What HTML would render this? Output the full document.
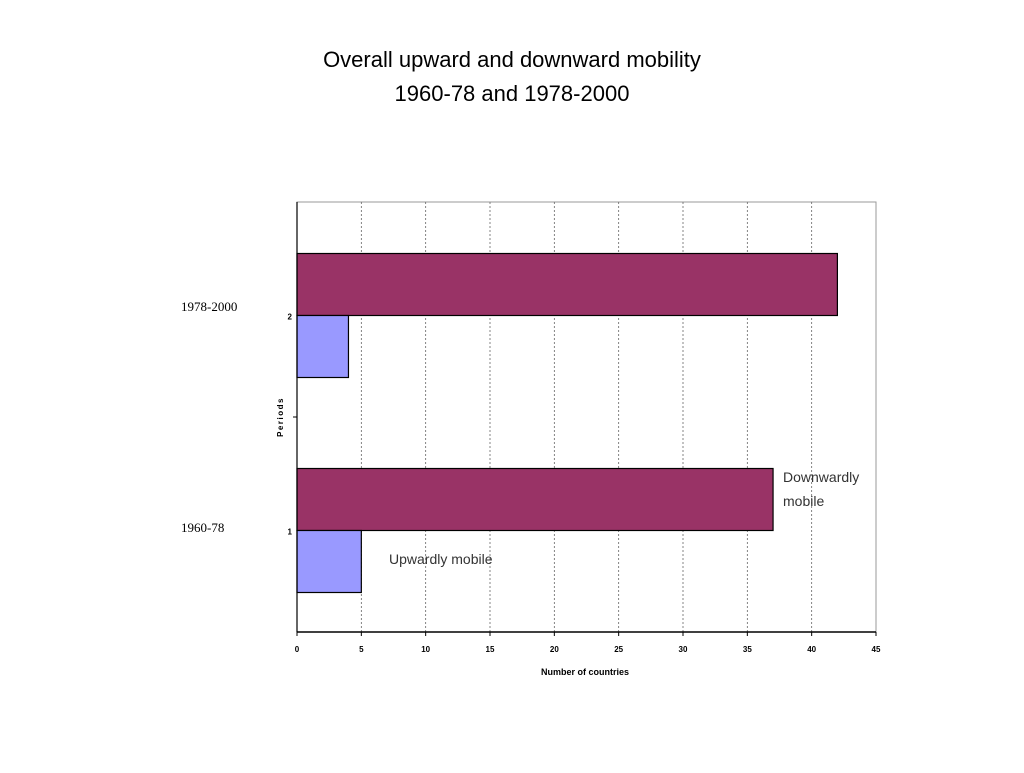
<!DOCTYPE html>
<html><head><meta charset="utf-8"><style>
body{margin:0;background:#fff;}
svg text{font-family:"Liberation Sans",sans-serif;}
</style></head><body>
<svg width="1024" height="768" viewBox="0 0 1024 768">
<text x="512" y="67" text-anchor="middle" font-size="22">Overall upward and downward mobility</text>
<text x="512" y="101" text-anchor="middle" font-size="22">1960-78 and 1978-2000</text>
<g id="plot"></g>
<text x="181" y="311" font-family="Liberation Serif" font-size="13" style="font-family:'Liberation Serif',serif">1978-2000</text>
<text x="181" y="532" font-size="13" style="font-family:'Liberation Serif',serif">1960-78</text>
<text x="783" y="482" font-size="14" fill="#333">Downwardly</text>
<text x="783" y="506" font-size="14" fill="#333">mobile</text>
<text x="389" y="564" font-size="14" fill="#333">Upwardly mobile</text>
<text x="585" y="675" text-anchor="middle" font-size="9" font-weight="bold">Number of countries</text>
<text x="283" y="417" text-anchor="middle" font-size="8" font-weight="bold" transform="rotate(-90 283 417)" letter-spacing="1.5">Periods</text>
</svg>
<script>
const categories=["1","2"];
const downward=[37,42];
const upward=[5,4];
const xTicks=[0,5,10,15,20,25,30,35,40,45];
const NS="http://www.w3.org/2000/svg";
const g=document.getElementById('plot');
const L=297,R=876,T=202,B=632;
const x=v=>L+(v/45)*(R-L);
const catCenter=i=>B-(i+0.5)*((B-T)/categories.length);
function mk(t,a){const e=document.createElementNS(NS,t);for(const k in a)e.setAttribute(k,a[k]);g.appendChild(e);return e;}
let fr=mk('rect',{x:L,y:T,width:R-L,height:B-T,fill:'#fff',stroke:'#999','stroke-width':1});


xTicks.forEach(v=>{
 if(v>0&&v<45){let l=mk('line',{x1:x(v),x2:x(v),y1:T,y2:B,stroke:'#666','stroke-dasharray':'2,2','stroke-width':0.8});
 
 }
 let tk=mk('line',{x1:x(v),x2:x(v),y1:B,y2:B+4,stroke:'#000'});
 
 
 let t=mk('text',{x:x(v),y:B+20,'text-anchor':'middle','font-size':8,'font-weight':'bold'});t.textContent=v;
 
 
});
const bh=62;
categories.forEach((c,i)=>{
 const cy=catCenter(i)+biasFix(i);
 let d=mk('rect',{x:L,y:cy-bh,width:x(downward[i])-L,height:bh,fill:'#993366',stroke:'#000','stroke-width':1.2});
 
 
 let u=mk('rect',{x:L,y:cy,width:x(upward[i])-L,height:bh,fill:'#9999ff',stroke:'#000','stroke-width':1.2});
 
 
 let t=mk('text',{x:L-5,y:cy+4,'text-anchor':'end','font-size':8,'font-weight':'bold'});t.textContent=c;
 
 
});
function biasFix(i){return 6;}
let mt=mk('line',{x1:L-4,x2:L,y1:(T+B)/2,y2:(T+B)/2,stroke:'#000'});


let ax=mk('line',{x1:L,x2:R,y1:B,y2:B,stroke:'#000','stroke-width':1.5});


let ay=mk('line',{x1:L,x2:L,y1:T,y2:B,stroke:'#000','stroke-width':1.2});


</script>
</body></html>
